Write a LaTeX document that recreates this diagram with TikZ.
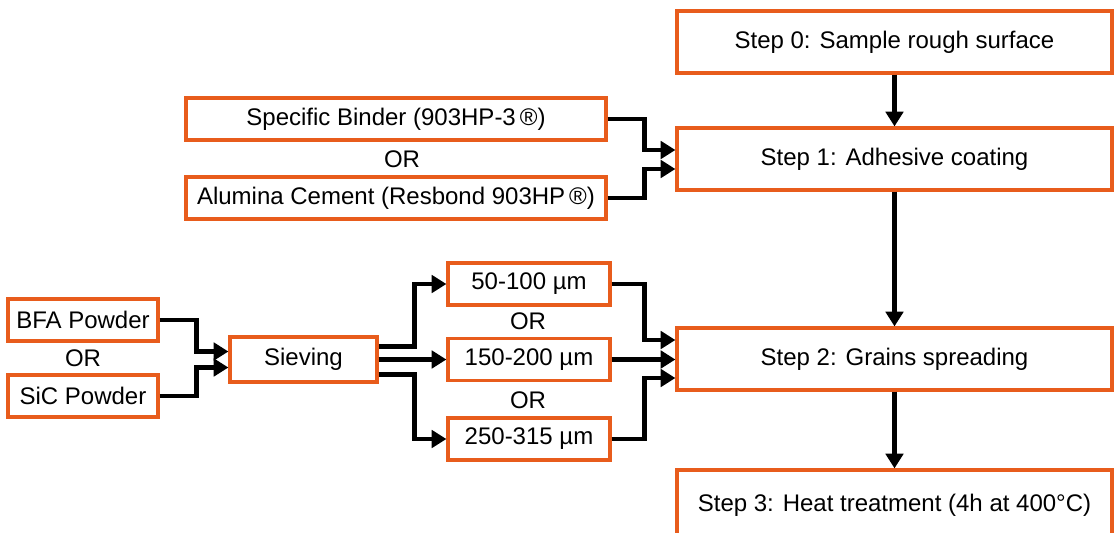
\documentclass[tikz,border=0pt]{standalone}
\usepackage{fontspec}
\setmainfont{Liberation Sans}
\usetikzlibrary{arrows.meta,calc}
\definecolor{boxorange}{RGB}{232,92,28}
\tikzset{
  box/.style={draw=boxorange, line width=2.4pt, fill=white, inner sep=0pt, font=\fontsize{18}{21}\selectfont},
  stepbox/.style={box, minimum width=326.25pt, minimum height=46.5pt},
  bindbox/.style={box, minimum width=315pt, minimum height=31.5pt},
  powbox/.style={box, minimum width=112.5pt, minimum height=31.5pt},
  sizebox/.style={box, minimum width=121.5pt, minimum height=31.5pt},
  ortext/.style={font=\fontsize{18}{21}\selectfont, inner sep=0pt},
  conn/.style={line width=3.5pt, -{Triangle[length=11pt,width=13pt]}}
}
\begin{document}
\begin{tikzpicture}[x=0.75pt,y=-0.75pt]
\useasboundingbox (0,0) rectangle (1117,532);
\begin{scope}
\clip (0,0) rectangle (1117,532);
% step boxes
\node[stepbox] (s0) at (894.5,42) {Step 0: Sample rough surface};
\node[stepbox] (s1) at (894.5,159) {Step 1: Adhesive coating};
\node[stepbox] (s2) at (894.5,359) {Step 2: Grains spreading};
\node[stepbox, minimum height=52.5pt] (s3) at (894.5,505) {Step 3: Heat treatment (4h at 400°C)};
% binders
\node[bindbox] (sb) at (396,119) {Specific Binder (903HP-3\,®)};
\node[ortext] (or1) at (402,159) {OR};
\node[bindbox] (ac) at (396,198) {Alumina Cement (Resbond 903HP\,®)};
% powders
\node[powbox] (bfa) at (83,320) {BFA Powder};
\node[ortext] (or2) at (83,358) {OR};
\node[powbox] (sic) at (83,396) {SiC Powder};
\node[box, minimum width=110.25pt, minimum height=33.75pt] (siev) at (303.5,359.5) {Sieving};
% sizes
\node[sizebox] (g1) at (529,284) {50-100 µm};
\node[ortext] (or3) at (528,321) {OR};
\node[sizebox] (g2) at (529,359.5) {150-200 µm};
\node[ortext] (or4) at (528,400) {OR};
\node[sizebox] (g3) at (529,439) {250-315 µm};
% connectors
\draw[conn] (s0.south) -- (s1.north);
\draw[conn] (s1.south) -- (s2.north);
\draw[conn] (s2.south) -- (s3.north);
\draw[conn] (sb.east) -- ++(37,0) |- ($(s1.west)+(0,-9)$);
\draw[conn] (ac.east) -- ++(37,0) |- ($(s1.west)+(0,10)$);
\draw[conn] (bfa.east) -- ++(37,0) |- ($(siev.west)+(0,-8)$);
\draw[conn] (sic.east) -- ++(37,0) |- ($(siev.west)+(0,8)$);
\draw[conn] ($(siev.east)+(0,-13)$) -- ++(36,0) |- (g1.west);
\draw[conn] (siev.east) -- (g2.west);
\draw[conn] ($(siev.east)+(0,15)$) -- ++(36,0) |- (g3.west);
\draw[conn] (g1.east) -- ++(33,0) |- ($(s2.west)+(0,-19)$);
\draw[conn] (g2.east) -- (g2.east -| s2.west);
\draw[conn] (g3.east) -- ++(33,0) |- ($(s2.west)+(0,19)$);
\end{scope}
\end{tikzpicture}
\end{document}
